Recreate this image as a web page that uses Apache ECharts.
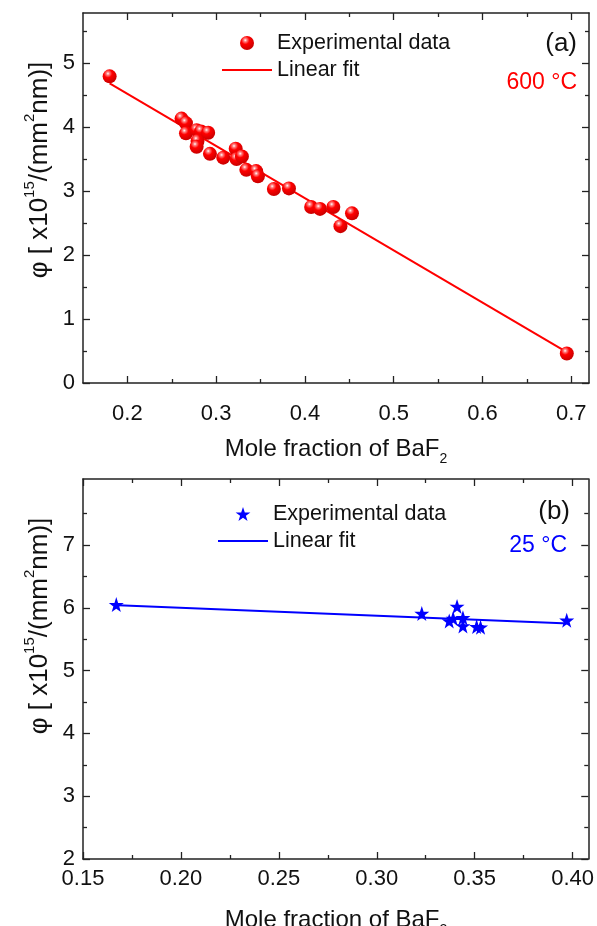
<!DOCTYPE html>
<html>
<head>
<meta charset="utf-8">
<script src="https://cdn.jsdelivr.net/npm/echarts@6/dist/echarts.min.js"></script>
<style>
  html, body { margin: 0; padding: 0; background: #fff; }
  #chart { width: 597px; height: 926px; }
</style>
</head>
<body>
<div id="chart"></div>
<script>
// panel (a): 600 °C
const expAX = [0.180, 0.261, 0.266, 0.266, 0.278, 0.283, 0.291, 0.279, 0.278, 0.293, 0.308, 0.322, 0.323, 0.329, 0.334, 0.345, 0.347, 0.365, 0.382, 0.407, 0.417, 0.432, 0.440, 0.453, 0.695];
const expAY = [4.79, 4.13, 4.06, 3.90, 3.95, 3.93, 3.91, 3.78, 3.69, 3.58, 3.52, 3.66, 3.50, 3.54, 3.33, 3.31, 3.23, 3.03, 3.04, 2.75, 2.72, 2.75, 2.45, 2.65, 0.46];
const fitAX = [0.180, 0.694];
const fitAY = [4.68, 0.49];

// panel (b): 25 °C
const expBX = [0.167, 0.323, 0.337, 0.339, 0.341, 0.344, 0.344, 0.351, 0.353, 0.397];
const expBY = [6.05, 5.91, 5.79, 5.83, 6.02, 5.84, 5.71, 5.70, 5.69, 5.80];
const fitBX = [0.168, 0.398];
const fitBY = [6.04, 5.75];

// ticks
const xMajorA = [0.2, 0.3, 0.4, 0.5, 0.6, 0.7];
const xMinorA = [0.25, 0.35, 0.45, 0.55, 0.65];
const yMajorA = [0, 1, 2, 3, 4, 5];
const yMinorA = [0.5, 1.5, 2.5, 3.5, 4.5, 5.5];
const xMajorB = [0.15, 0.20, 0.25, 0.30, 0.35, 0.40];
const xMinorB = [0.175, 0.225, 0.275, 0.325, 0.375];
const yMajorB = [2, 3, 4, 5, 6, 7];
const yMinorB = [2.5, 3.5, 4.5, 5.5, 6.5, 7.5];

const FONT = '"Liberation Sans", Arial, sans-serif';
const lineCol = '#222';

const legendNames = {
  expA: 'Experimental data', fitA: 'Linear fit',
  expB: 'Experimental data', fitB: 'Linear fit'
};

function pairs(xs, ys) {
  return xs.map((x, i) => [x, ys[i]]);
}

// one axis of the frame; major ones carry the line (and maybe labels)
function axis(gridIndex, position, min, max, ticks, major, labels, fmt, margin) {
  return {
    type: 'value',
    gridIndex: gridIndex,
    position: position,
    min: min,
    max: max,
    axisLine: { show: major, onZero: false, lineStyle: { color: lineCol, width: 1.5 } },
    axisTick: {
      show: true, inside: true, length: major ? 7 : 4,
      customValues: ticks,
      lineStyle: { color: lineCol, width: 1.3 }
    },
    axisLabel: {
      show: !!labels,
      customValues: labels ? ticks : undefined,
      formatter: fmt,
      margin: margin,
      fontSize: 22,
      fontFamily: FONT,
      color: '#111'
    },
    splitLine: { show: false }
  };
}

const fmtA = v => String(v);
const fmtB = v => v.toFixed(2);
const fmtY = v => String(v);

const xAxes = [
  axis(0, 'bottom', 0.15, 0.72, xMajorA, true, true, fmtA, 20),
  axis(0, 'bottom', 0.15, 0.72, xMinorA, false),
  axis(0, 'top', 0.15, 0.72, xMajorA, true),
  axis(0, 'top', 0.15, 0.72, xMinorA, false),
  axis(1, 'bottom', 0.15, 0.408, xMajorB, true, true, fmtB, 9),
  axis(1, 'bottom', 0.15, 0.408, xMinorB, false),
  axis(1, 'top', 0.15, 0.408, xMajorB, true),
  axis(1, 'top', 0.15, 0.408, xMinorB, false)
];
const yAxes = [
  axis(0, 'left', 0, 5.78, yMajorA, true, true, fmtY, 8),
  axis(0, 'left', 0, 5.78, yMinorA, false),
  axis(0, 'right', 0, 5.78, yMajorA, true),
  axis(0, 'right', 0, 5.78, yMinorA, false),
  axis(1, 'left', 2, 8.05, yMajorB, true, true, fmtY, 8),
  axis(1, 'left', 2, 8.05, yMinorB, false),
  axis(1, 'right', 2, 8.05, yMajorB, true),
  axis(1, 'right', 2, 8.05, yMinorB, false)
];

const sphere = {
  type: 'radial', x: 0.38, y: 0.3, r: 0.7,
  colorStops: [
    { offset: 0, color: '#ffffff' },
    { offset: 0.16, color: '#ff8080' },
    { offset: 0.42, color: '#ff0000' },
    { offset: 1, color: '#c80000' }
  ]
};
const starPath = 'path://M50,0 L61.8,35.1 L98.1,35.1 L68.8,56.7 L79.4,91 L50,70 L20.6,91 L31.2,56.7 L1.9,35.1 L38.2,35.1 Z';
const lineIcon = 'path://M0,0 H50 V2 H0 Z';

const legendCommon = {
  orient: 'vertical',
  itemWidth: 50,
  itemHeight: 14,
  itemGap: 5,
  padding: 0,
  selectedMode: false,
  formatter: name => legendNames[name],
  textStyle: { fontSize: 21.5, fontFamily: FONT, color: '#111', lineHeight: 22 }
};

const titleY = '{m|φ [ x10}{s|15}{m|/(mm}{s|2}{m|nm)]}';
const titleX = '{m|Mole fraction of BaF}{b|2}';
const richX = {
  m: { fontSize: 24, fontFamily: FONT, lineHeight: 34, fill: '#111' },
  s: { fontSize: 14, fontFamily: FONT, lineHeight: 16, verticalAlign: 'top', fill: '#111' },
  b: { fontSize: 14, fontFamily: FONT, lineHeight: 14, verticalAlign: 'bottom', fill: '#111' }
};
const richY = {
  m: { fontSize: 26, fontFamily: FONT, lineHeight: 36, fill: '#111' },
  s: { fontSize: 15, fontFamily: FONT, lineHeight: 17, verticalAlign: 'top', fill: '#111' }
};

function label(text, right, y, size, color) {
  return {
    type: 'text', right: right, top: y - size / 2,
    style: { text: text, fontSize: size, fontFamily: FONT, fill: color }
  };
}

const myChart = echarts.init(document.getElementById('chart'), null, { renderer: 'canvas' });
myChart.setOption({
  animation: false,
  backgroundColor: '#fff',
  grid: [
    { left: 83, right: 8, top: 13, height: 370 },
    { left: 83, right: 8, top: 479, height: 380 }
  ],
  xAxis: xAxes,
  yAxis: yAxes,
  legend: [
    Object.assign({ data: ['expA', { name: 'fitA', icon: lineIcon }], left: 222, top: 32 }, legendCommon),
    Object.assign({ data: ['expB', { name: 'fitB', icon: lineIcon }], left: 218, top: 503 }, legendCommon)
  ],
  series: [
    {
      name: 'fitA', type: 'line', xAxisIndex: 0, yAxisIndex: 0,
      symbol: 'none', z: 2,
      lineStyle: { color: '#ff0000', width: 2 },
      itemStyle: { color: '#ff0000' },
      data: pairs(fitAX, fitAY)
    },
    {
      name: 'expA', type: 'scatter', xAxisIndex: 0, yAxisIndex: 0,
      symbol: 'circle', symbolSize: 14, z: 3,
      itemStyle: { color: sphere, opacity: 1 },
      data: pairs(expAX, expAY)
    },
    {
      name: 'fitB', type: 'line', xAxisIndex: 4, yAxisIndex: 4,
      symbol: 'none', z: 2,
      lineStyle: { color: '#0000ff', width: 2 },
      itemStyle: { color: '#0000ff' },
      data: pairs(fitBX, fitBY)
    },
    {
      name: 'expB', type: 'scatter', xAxisIndex: 4, yAxisIndex: 4,
      symbol: starPath, symbolSize: 15, z: 3,
      itemStyle: { color: '#0000ff', opacity: 1 },
      data: pairs(expBX, expBY)
    }
  ],
  graphic: [
    {
      type: 'text', x: 40, y: 170, rotation: Math.PI / 2,
      style: { text: titleY, rich: richY, align: 'center', verticalAlign: 'middle' }
    },
    {
      type: 'text', x: 40, y: 626, rotation: Math.PI / 2,
      style: { text: titleY, rich: richY, align: 'center', verticalAlign: 'middle' }
    },
    {
      type: 'text', x: 336, y: 449,
      style: { text: titleX, rich: richX, align: 'center', verticalAlign: 'middle' }
    },
    {
      type: 'text', x: 336, y: 920,
      style: { text: titleX, rich: richX, align: 'center', verticalAlign: 'middle' }
    },
    label('(a)', 20, 44, 26, '#111'),
    label('600 °C', 20, 83, 23, '#ff0000'),
    label('(b)', 27, 512, 26, '#111'),
    label('25 °C', 30, 546, 23, '#0000ff')
  ]
});
</script>
</body>
</html>
